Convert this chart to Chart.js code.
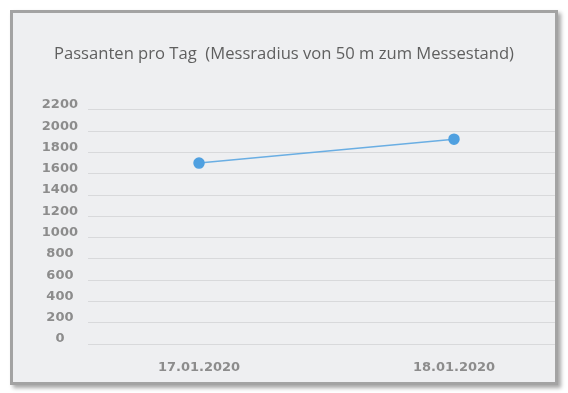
<!DOCTYPE html>
<html>
<head>
<meta charset="utf-8">
<script src="https://cdn.jsdelivr.net/npm/chart.js@4/dist/chart.umd.min.js"></script>
<style>
  html, body { margin: 0; padding: 0; background: #ffffff; }
  body { width: 568px; height: 393px; position: relative; overflow: hidden; }
  #frame {
    position: absolute; left: 10px; top: 10px;
    width: 542px; height: 369px;
    border: 3px solid #a3a3a3;
    background: #eeeff1;
    box-shadow: 3px 3px 4px rgba(0,0,0,0.35);
  }
  #wrap { position: absolute; left: 0; top: 0; width: 542px; height: 369px; }
</style>
</head>
<body>
<div id="frame"><div id="wrap"><canvas id="c"></canvas></div></div>
<script>
const titleText = 'Passanten pro Tag  (Messradius von 50 m zum Messestand)';
const categories = ['17.01.2020', '18.01.2020'];
const passanten = [1700, 1925];
const yTicks = [0, 200, 400, 600, 800, 1000, 1200, 1400, 1600, 1800, 2000, 2200];

const tickFont = { family: 'DejaVu Sans', size: 13, weight: 'bold' };

new Chart(document.getElementById('c'), {
  type: 'line',
  data: {
    datasets: [{
      label: 'Passanten',
      data: categories.map((c, i) => ({ x: i, y: passanten[i] })),
      borderColor: '#6aaee3',
      borderWidth: 1.5,
      backgroundColor: '#4fa0e0',
      pointBackgroundColor: '#4fa0e0',
      pointBorderColor: '#4fa0e0',
      pointRadius: 5,
      fill: false,
      tension: 0
    }]
  },
  options: {
    responsive: true,
    maintainAspectRatio: false,
    animation: false,
    layout: { padding: 0, autoPadding: false },
    plugins: {
      legend: { display: false },
      tooltip: { enabled: false },
      title: {
        display: true,
        text: titleText,
        color: '#5f5f5f',
        font: { family: 'Open Sans', size: 16.6, weight: 'normal' },
        padding: { top: 31, bottom: 46 }
      }
    },
    scales: {
      x: {
        type: 'linear',
        min: -0.4354,
        max: 1.3961,
        grid: { display: false, drawTicks: false },
        border: { display: false },
        afterBuildTicks: s => { s.ticks = categories.map((c, i) => ({ value: i })); },
        afterFit: s => { s.height = 38; s.paddingLeft = 0; s.paddingRight = 0; },
        ticks: {
          color: '#8c8c8c',
          font: tickFont,
          padding: 16,
          maxRotation: 0,
          callback: v => categories[v]
        }
      },
      y: {
        min: 0,
        max: 2200,
        afterBuildTicks: s => { s.ticks = yTicks.map(v => ({ value: v })); },
        afterFit: s => { s.width = 75; },
        grid: { color: '#d8d9db', lineWidth: 1, drawTicks: false },
        border: { display: false },
        ticks: {
          color: '#8c8c8c',
          font: tickFont,
          crossAlign: 'center',
          padding: 10,
          labelOffset: -5,
          callback: v => String(v)
        }
      }
    }
  }
});
</script>
</body>
</html>
